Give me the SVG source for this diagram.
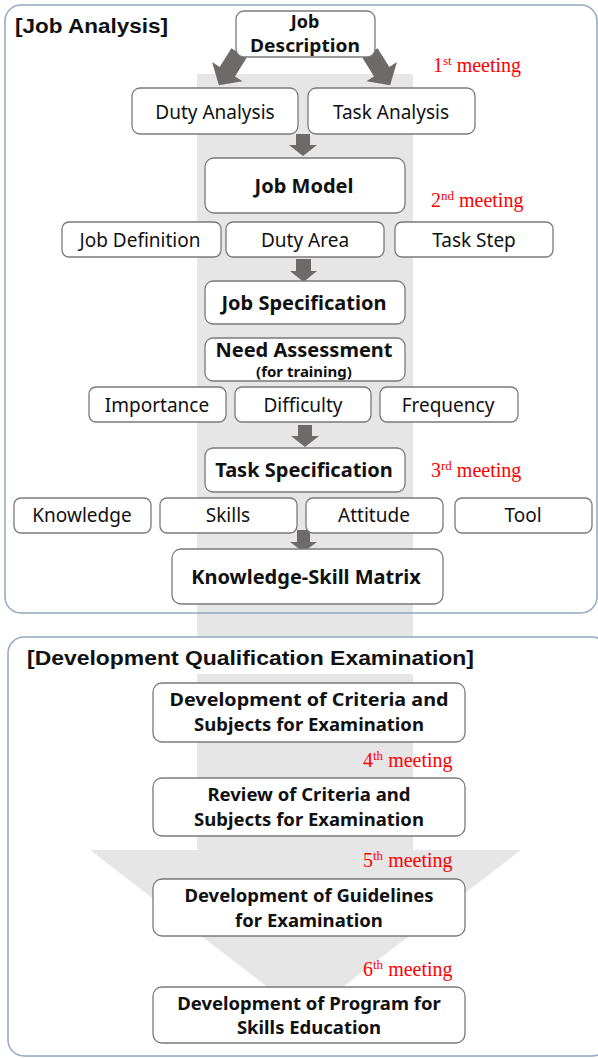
<svg xmlns="http://www.w3.org/2000/svg" width="598" height="1058" viewBox="0 0 598 1058">
<style>
.panel{fill:none;stroke:#93a8c2;stroke-width:1.5}
.pfill{fill:#ffffff;stroke:none}
.band{fill:#e6e6e6}
.box{fill:#ffffff;stroke:#7a7a7a;stroke-width:1.3}
.arr{fill:#6e6a6a}
.t{font-family:"Noto Sans","Open Sans",sans-serif;font-size:19px;fill:#111;text-anchor:middle}
.b{font-family:"Noto Sans","Open Sans",sans-serif;font-size:20px;font-weight:bold;fill:#111;text-anchor:middle}
.b2{font-family:"Noto Sans","Open Sans",sans-serif;font-size:18.5px;font-weight:bold;fill:#111;text-anchor:middle}
.title{font-family:"Liberation Sans",Arial,sans-serif;font-size:21px;font-weight:bold;fill:#111}
.m{font-family:"Liberation Serif","Times New Roman",serif;font-size:20px;fill:#ff0000}
</style>
<defs>
<polygon id="diag" points="-9,0 9,0 9,22 18,22 0,38 -18,22 -9,22"/>
</defs>
<rect width="598" height="1058" fill="#ffffff"/>
<!-- panel fills -->
<rect class="pfill" x="5" y="5" width="592" height="608" rx="16"/>
<rect class="pfill" x="8" y="637" width="600" height="419" rx="16"/>
<!-- big background arrow -->
<g id="bigarrow">
<rect class="band" x="197" y="74" width="216" height="563"/>
<polygon class="band" points="197,674 413,674 413,850 521,850 305,1016 90,850 197,850"/>
</g>
<!-- panel borders -->
<g id="panel1">
<rect class="panel" x="5" y="5" width="592" height="608" rx="16"/>
<text class="title" x="15" y="33" textLength="153" lengthAdjust="spacingAndGlyphs">[Job Analysis]</text>
</g>
<g id="panel2">
<rect class="panel" x="8" y="637" width="600" height="419" rx="16"/>
<text class="title" x="27" y="665" textLength="447" lengthAdjust="spacingAndGlyphs">[Development Qualification Examination]</text>
</g>
<!-- connectors -->
<g id="connectors">
<use href="#diag" class="arr" transform="translate(239,53) rotate(32)"/>
<use href="#diag" class="arr" transform="translate(370,53) rotate(-32)"/>
<polygon class="arr" points="296,134 310,134 310,145 317,145 303,156 289,145 296,145"/>
<polygon class="arr" points="296,259 311,259 311,271 317,271 303.5,282 290,271 296,271"/>
<polygon class="arr" points="298,425 312,425 312,436 319,436 305,447 291,436 298,436"/>
<polygon class="arr" points="297,530 310,530 310,542 317,542 303.5,552 290,542 297,542"/>
</g>
<!-- nodes -->
<g id="job-description"><rect class="box" x="236" y="11" width="139" height="46" rx="8"/><text class="b" x="305" y="28" style="font-size:18px">Job</text><text class="b" x="305" y="52" style="font-size:18px" textLength="110" lengthAdjust="spacingAndGlyphs">Description</text></g>
<g id="duty-analysis"><rect class="box" x="132" y="88" width="166" height="46" rx="8"/><text class="t" x="215" y="119">Duty Analysis</text></g>
<g id="task-analysis"><rect class="box" x="308" y="88" width="167" height="46" rx="8"/><text class="t" x="391" y="119">Task Analysis</text></g>
<g id="job-model"><rect class="box" x="205" y="158" width="200" height="55" rx="9"/><text class="b" x="304" y="193">Job Model</text></g>
<g id="job-definition"><rect class="box" x="62" y="222" width="159" height="35" rx="7"/><text class="t" x="140" y="247">Job Definition</text></g>
<g id="duty-area"><rect class="box" x="226" y="222" width="158" height="35" rx="7"/><text class="t" x="305" y="247">Duty Area</text></g>
<g id="task-step"><rect class="box" x="395" y="222" width="158" height="35" rx="7"/><text class="t" x="474" y="247">Task Step</text></g>
<g id="job-specification"><rect class="box" x="205" y="281" width="200" height="43" rx="8"/><text class="b" x="304" y="310">Job Specification</text></g>
<g id="need-assessment"><rect class="box" x="205" y="338" width="200" height="43" rx="8"/><text class="b" x="304" y="357">Need Assessment</text><text class="b" x="304" y="377" style="font-size:15px">(for training)</text></g>
<g id="importance"><rect class="box" x="89" y="387" width="137" height="35" rx="7"/><text class="t" x="157" y="412">Importance</text></g>
<g id="difficulty"><rect class="box" x="235" y="387" width="136" height="35" rx="7"/><text class="t" x="303" y="412">Difficulty</text></g>
<g id="frequency"><rect class="box" x="380" y="387" width="138" height="35" rx="7"/><text class="t" x="448" y="412">Frequency</text></g>
<g id="task-specification"><rect class="box" x="205" y="448" width="200" height="44" rx="8"/><text class="b" x="304" y="477">Task Specification</text></g>
<g id="knowledge"><rect class="box" x="14" y="498" width="137" height="35" rx="7"/><text class="t" x="82" y="522">Knowledge</text></g>
<g id="skills"><rect class="box" x="160" y="498" width="137" height="35" rx="7"/><text class="t" x="228" y="522">Skills</text></g>
<g id="attitude"><rect class="box" x="306" y="498" width="137" height="35" rx="7"/><text class="t" x="374" y="522">Attitude</text></g>
<g id="tool"><rect class="box" x="455" y="498" width="137" height="35" rx="7"/><text class="t" x="523" y="522">Tool</text></g>
<g id="ks-matrix"><rect class="box" x="172" y="549" width="271" height="55" rx="9"/><text class="b" x="306" y="584">Knowledge-Skill Matrix</text></g>
<g id="dev-criteria"><rect class="box" x="153" y="683" width="312" height="59" rx="9"/><text class="b2" x="309" y="706" textLength="279" lengthAdjust="spacingAndGlyphs">Development of Criteria and</text><text class="b2" x="309" y="731">Subjects for Examination</text></g>
<g id="review-criteria"><rect class="box" x="153" y="778" width="312" height="58" rx="9"/><text class="b2" x="309" y="801">Review of Criteria and</text><text class="b2" x="309" y="826">Subjects for Examination</text></g>
<g id="dev-guidelines"><rect class="box" x="153" y="879" width="312" height="57" rx="9"/><text class="b2" x="309" y="902">Development of Guidelines</text><text class="b2" x="309" y="927">for Examination</text></g>
<g id="dev-program"><rect class="box" x="153" y="987" width="312" height="56" rx="9"/><text class="b2" x="309" y="1010">Development of Program for</text><text class="b2" x="309" y="1034">Skills Education</text></g>
<!-- meeting labels -->
<g id="meetings">
<text class="m" x="433" y="72">1<tspan font-size="13" dy="-7">st</tspan><tspan dy="7"> meeting</tspan></text>
<text class="m" x="431" y="207">2<tspan font-size="13" dy="-7">nd</tspan><tspan dy="7"> meeting</tspan></text>
<text class="m" x="431" y="477">3<tspan font-size="13" dy="-7">rd</tspan><tspan dy="7"> meeting</tspan></text>
<text class="m" x="363" y="767">4<tspan font-size="13" dy="-7">th</tspan><tspan dy="7"> meeting</tspan></text>
<text class="m" x="363" y="867">5<tspan font-size="13" dy="-7">th</tspan><tspan dy="7"> meeting</tspan></text>
<text class="m" x="363" y="976">6<tspan font-size="13" dy="-7">th</tspan><tspan dy="7"> meeting</tspan></text>
</g>
</svg>
